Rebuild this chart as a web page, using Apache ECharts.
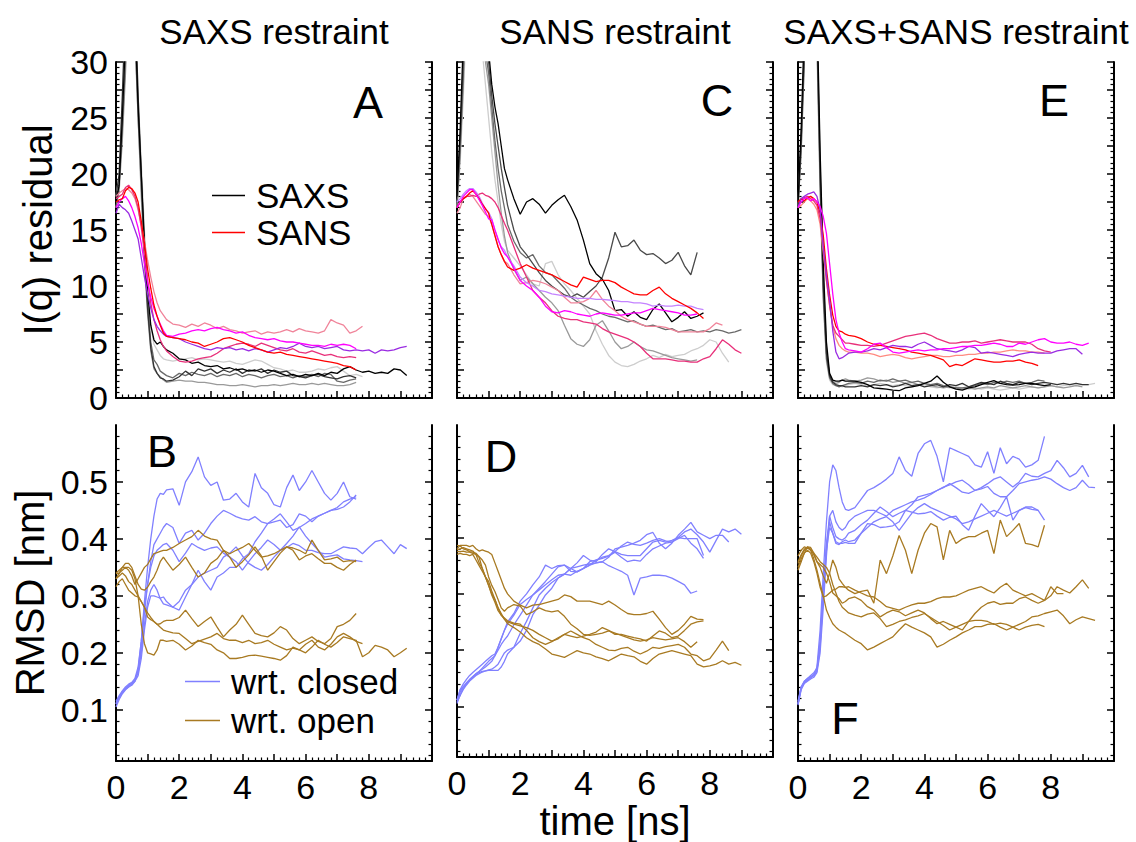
<!DOCTYPE html>
<html><head><meta charset="utf-8">
<script src="https://cdn.jsdelivr.net/npm/echarts@6/dist/echarts.min.js"></script>
<style>html,body{margin:0;padding:0;background:#fff}#c{width:1136px;height:842px}</style>
</head><body><div id="c"></div><script>
// time grid (ns)
const T = [0,0.1,0.2,0.3,0.4,0.5,0.6,0.7,0.8,0.9,1.0,1.1,1.2,1.3,1.4,1.5,1.6,
 1.8,2.0,2.2,2.4,2.6, 2.8,3.0,3.2,3.4,3.6, 3.8,4.0,4.2,4.4,4.6, 4.8,5.0,5.2,5.4,5.6,
 5.8,6.0,6.2,6.4,6.6, 6.8,7.0,7.2,7.4,7.6, 7.8,8.0,8.2,8.4,8.6, 8.8,9.0,9.2,9.4];

// ---------- Panel A: SAXS restraint, I(q) residual ----------
const A_saxs1 = [17.5,19,25,32,40,43,34,26,20,14,9.5,6.5,5.2,4.8,5.0,4.6,4.3,
 4.0,3.5,3.4,3.1,3.2, 2.9,2.8,2.9,2.6,2.7, 2.5,2.6,2.4,2.5,2.3, 2.5,2.4,2.2,2.0,2.1,
 1.9,2.1,2.0,2.2,2.0, 2.3,2.2,2.6,2.8,2.5, 2.3,2.4,2.2,2.3,2.2, 2.6,2.5,2.0];
const A_saxs2 = [18,20,27,35,44,46,36,27,20,13,8,4.5,2.8,2.2,1.8,1.7,1.5,
 1.6,1.9,2.4,2.0,2.6, 2.4,2.6,2.2,2.5,2.3, 2.6,2.2,2.5,2.4,2.6, 2.2,2.5,2.3,2.4,2.0,
 1.9,1.8,2.0,2.1,1.9, 1.8,1.7,1.9,2.0,1.8];
const A_saxs3 = [17,19,24,30,38,40,33,25,19,13,8.5,5,3.4,3.0,2.4,2.2,2.0,
 1.8,2.2,2.0,2.3,2.1, 2.0,2.2,1.9,2.1,2.0, 2.2,1.9,2.1,2.0,1.8, 2.0,2.1,1.9,2.0,1.8,
 2.0,1.9,2.1,1.9,2.2, 2.1,1.5,1.4,1.6,1.7];
const A_saxs4 = [17,18.5,23,29,36,39,32,25,18,12,7.5,4.2,2.6,2.2,1.9,1.6,1.4,
 1.5,1.6,1.5,1.5,1.4, 1.4,1.3,1.2,1.2,1.1, 1.1,1.2,1.1,1.0,1.1, 1.1,1.2,1.1,1.2,1.3,
 1.2,1.2,1.3,1.2,1.3, 1.2,1.1,1.1,1.2,1.4];
const A_saxs5 = [18,20,26,33,41,44,35,27,21,15,10,6.5,4.8,4.3,3.8,3.5,3.4,
 3.3,3.4,3.5,3.6,3.4, 3.5,3.4,3.3,3.2,3.3, 3.1,3.0,3.2,3.4,3.3, 3.0,2.7,2.6,2.4,2.5,
 2.3,2.3,2.4,2.6,2.5, 2.7,2.8,2.4,2.0,2.1, 1.9];
const A_sansRed = [17.5,17.7,17.8,18.5,18.8,18.7,18.3,17.5,15.8,13.8,11.5,9.8,8.3,7.3,6.5,5.8,5.5,
 5.4,5.3,5.2,5.0,4.9, 4.6,4.8,5.0,5.3,5.4, 5.2,5.0,4.7,4.5,4.3, 4.1,4.0,4.1,3.9,3.8,
 3.7,3.6,3.5,3.4,3.3, 3.2,3.1,2.9,2.8,2.5];
const A_sansRose = [17.8,18.0,18.2,18.8,19.0,18.6,18.0,17.0,15.2,13.0,10.6,8.5,7.0,6.0,5.2,4.6,4.2,
 3.7,3.3,3.2,3.3,3.5, 3.6,3.7,4.0,4.4,4.6, 4.8,4.9,4.8,4.6,4.9, 4.7,4.5,4.3,4.2,4.4,
 4.1,4.0,4.2,4.0,3.8, 3.9,3.7,3.6,3.7,3.6];
const A_sansPink = [18.0,18.3,18.5,18.7,18.6,18.3,17.8,16.8,15.5,14.0,12.3,10.8,9.5,8.5,7.8,7.4,7.0,
 6.6,6.5,6.3,6.6,6.4, 6.7,6.5,6.2,6.4,6.1, 6.0,5.8,5.9,6.0,5.7, 5.9,5.8,5.9,6.1,5.9,
 6.2,6.0,5.9,5.8,6.0, 7.0,6.7,6.5,5.8,6.0, 6.4];
const A_sansMagenta = [17.0,17.5,17.8,18.0,17.6,17.0,16.2,15.2,13.8,12.0,10.3,9.0,8.0,7.3,6.6,6.0,5.6,
 5.5,5.7,5.8,6.0,6.1, 6.0,6.2,6.3,6.1,6.0, 5.8,5.9,5.6,5.4,5.3, 5.2,5.3,5.1,5.0,5.0,
 4.9,4.8,4.7,4.7,4.6, 4.8,4.7,4.8,4.7,4.4];
const A_sansPurple = [16.5,17.3,17.0,16.8,16.5,15.8,15.0,14.2,12.5,10.8,9.3,8.0,7.0,6.4,6.0,5.7,5.5,
 5.4,5.3,5.0,4.8,4.6, 4.4,4.3,4.5,4.4,4.5, 4.3,4.4,4.2,4.4,4.3, 4.1,4.3,4.5,4.4,4.6,
 4.9,4.6,4.5,4.6,4.4, 4.5,4.6,4.3,4.2,4.3, 4.2,4.3,4.0,4.3,4.2, 4.3,4.5,4.6];

// ---------- Panel C: SANS restraint ----------
const C_saxs1 = [18,24,32,40,45,48,46,42,38,34,31,28,26,24.5,22.5,20.5,19.5,
 17.8,16.4,17.5,17.8,17.3, 16.5,17.2,17.7,18.1,17.1, 15.9,14.1,12.0,11.1,10.6, 9.6,7.8,7.9,7.3,7.7,
 7.2,7.0,7.9,8.4,7.6, 6.8,7.2,7.7,7.1,7.3, 7.6];
const C_saxs2 = [18,23,30,38,44,47,45,42,38,34,30,27,24.5,22.5,20.5,18.8,17.2,
 15,13.5,12.8,12,11.2, 10.5,10,9.6,9.2,9.0, 9.3,9.0,9.5,10.0,10.8, 12.5,14.8,13.5,13.6,14.1,
 13.2,12.8,12.9,12.5,12.0, 12.3,13.0,11.8,11.0,13.0];
const C_saxs3 = [17,22,29,37,43,45,42,38,34,31,29,26,23,20.5,18.5,17,15.5,
 14.0,13.0,12.5,12.8,11.8, 11.2,11.0,10.4,9.8,9.0, 8.6,8.3,8.0,7.8,7.5, 7.3,7.2,7.0,6.8,6.9,
 6.6,6.4,6.5,6.3,6.1, 6.2,5.9,6.0,6.1,5.9, 6.0,5.9,6.1,6.0,5.8, 5.9,6.1];
const C_saxs4 = [17,22,28,36,42,44,41,37,33,30,28,25,22,19,16.5,14.5,13,
 11.5,10.5,10.8,10.2,9.6, 9.0,8.5,7.8,6.5,5.3, 4.8,4.6,5.2,6.5,6.9, 6.0,5.0,4.4,4.6,5.0,
 4.6,4.3,4.2,4.0,3.8, 3.6,3.5,3.4,3.3,3.4];
const C_saxs5 = [17,21,27,34,40,42,39,35,31,28,25,22,19.5,17.5,15.5,14,13.2,
 12.5,11.8,11.0,10.2,10.0, 12.0,12.2,11.0,10.2,9.6, 8.9,8.2,7.5,6.0,4.8, 3.8,3.2,2.9,2.8,3.0,
 3.3,3.5,3.8,3.6,3.9, 3.7,3.8,3.9,4.2,4.4, 4.7,5.2,5.0,4.0,3.2];
const C_sansRed = [17,17.5,17.8,18.0,18.3,18.5,18.2,17.8,17.3,16.9,16.5,15.5,14.5,13.5,12.8,12.2,11.7,
 11.4,11.6,11.9,11.6,11.4, 11.2,11.0,10.7,10.4,10.1, 9.9,10.8,10.6,10.4,10.5, 10.5,10.3,9.9,9.6,9.3,
 9.2,9.2,9.6,9.9,9.3, 8.9,8.6,8.3,8.0,7.6, 7.1];
const C_sansLilac = [17.5,17.8,18.2,18.5,18.7,18.7,18.4,18.0,17.4,16.9,16.6,16.0,15.0,14.1,13.5,13.2,12.6,
 11.8,10.8,10.3,10.0,9.6, 9.5,9.3,9.2,9.1,9.0, 8.9,8.9,8.9,8.8,8.8, 8.75,8.7,8.6,8.6,8.5,
 8.5,8.4,8.2,8.3,8.2, 8.2,8.3,8.2,8.2,8.0, 7.9];
const C_sansMagenta = [17,17.5,18,18.3,18.6,18.6,18.2,17.7,17.2,16.6,16.0,15.9,15.0,14.2,13.4,12.9,12.6,
 11.6,10.5,10.0,9.6,9.0, 8.2,7.7,7.6,7.8,7.7, 7.5,7.4,7.3,7.5,7.6, 7.5,7.4,7.4,7.5,7.6,
 7.6,7.8,8.0,7.9,7.8, 7.7,7.6,7.4,7.4,7.5];
const C_sansPink = [16.5,17,17.8,18,18.2,18.0,17.6,17.2,16.8,16.4,16.2,15.5,14.5,13.5,12.8,12.2,12.0,
 11.0,10.2,10.3,10.5,10.4, 10.2,9.9,9.6,9.0,8.5, 8.5,8.6,8.9,9.6,8.8, 8.2,7.8,7.3,7.0,6.8,
 6.6,6.4,6.4,6.4,6.3, 6.1,5.9,5.9,5.9,5.9, 5.9,6.2,6.7,6.5];
const C_sansRose = [17,17.5,17.8,18,18,18.1,18,18.2,18.3,18.1,18.0,17.8,17.5,17.0,16.3,15.6,15.0,
 13.5,12.0,10.8,9.6,9.0, 8.5,7.8,7.3,7.1,7.0, 7.0,6.8,6.7,6.6,6.2, 5.9,5.7,5.5,5.3,5.0,
 4.6,4.0,3.5,3.5,3.5, 3.4,3.3,3.3,3.2,3.2, 3.5,3.7,4.4,5.2,4.8, 4.3,4.0];

// ---------- Panel E: SAXS+SANS restraint ----------
const E_saxs1 = [17.5,24,33,42,46,44,35,22,12,5,2.2,1.6,1.5,1.5,1.6,1.5,1.5,
 1.5,1.4,1.2,0.9,0.85, 0.8,0.7,0.65,0.9,1.0, 1.1,1.3,1.5,1.96,1.4, 1.0,0.8,0.7,0.9,1.0,
 1.2,1.4,1.55,1.3,1.2, 1.15,1.2,1.3,1.3,1.2, 1.1,1.2];
const E_saxs2 = [17,23,31,40,45,43,33,20,10,4,2,1.4,1.2,1.1,1.1,1.0,1.0,
 1.0,1.1,1.0,1.2,1.1, 1.2,1.0,1.1,1.3,1.1, 1.2,1.0,1.1,1.2,1.0, 1.2,1.1,1.3,1.0,1.2,
 1.4,1.3,1.2,1.5,1.3, 1.2,1.4,1.3,1.2,1.3, 1.4,1.3,1.2,1.3,1.2, 1.3,1.2,1.2];
const E_saxs3 = [17,22,30,39,44,42,32,19,9,3.5,1.8,1.3,1.1,1.0,1.1,1.2,1.3,
 1.4,1.3,1.5,1.4,1.6, 1.5,1.7,1.5,1.6,1.4, 1.5,1.3,1.2,1.3,1.1, 1.0,0.9,0.9,1.0,1.1,
 1.3,1.2,1.4,1.3,1.5, 1.4,1.5,1.3,1.4,1.6, 1.5];
const E_saxs4 = [17.5,23,32,41,45,43,34,21,11,4.5,2.1,1.5,1.3,1.4,1.6,1.7,1.6,
 1.5,1.6,1.8,1.7,1.5, 1.6,1.4,1.5,1.3,1.4, 1.2,1.3,1.1,1.0,0.9, 1.0,0.9,0.8,0.9,0.8,
 0.9,1.0,0.9,1.1,1.0, 0.9,1.0,1.1,1.0,0.9, 1.0,1.1,1.0,0.9,1.0, 1.1,1.0];
const E_saxs5 = [17,22,30,38,43,41,31,18,8.5,3.2,1.6,1.2,1.1,1.1,1.0,1.1,1.2,
 1.3,1.2,1.1,1.2,1.3, 1.2,1.1,1.2,1.1,1.0, 1.1,1.2,1.0,0.9,1.0, 0.9,1.0,0.9,0.8,0.9,
 0.8,0.9,0.8,0.7,0.8, 0.9,0.8,0.9,1.0,0.9, 1.0,1.1,1.0,1.1,1.2, 1.1,1.2,1.2,1.3];
const E_sansRed = [17.5,17.8,17.6,17.9,18.0,17.8,17.5,16.5,14.5,11.5,9.2,7.4,6.4,6.0,5.9,5.7,5.6,
 5.5,5.3,5.0,4.8,4.7, 4.6,4.5,4.4,4.3,4.1, 4.0,3.9,3.8,3.6,3.4, 2.8,3.0,2.9,3.2,3.5,
 3.4,3.3,3.2,3.2,3.3, 3.3,3.4,3.2,3.1,2.9];
const E_sansMagenta = [17.0,17.5,17.8,17.9,17.6,17.8,17.5,17.1,16.2,14.7,12.0,9.3,7.0,5.8,5.0,4.4,4.3,
 4.2,4.1,4.4,4.8,4.9, 4.5,4.1,4.0,4.1,4.2, 4.3,4.2,4.3,4.3,4.4, 4.4,4.5,4.6,4.6,4.7,
 4.7,4.8,4.9,4.8,4.6, 4.6,4.9,4.8,5.0,5.2, 5.3,5.0,4.9,4.9,5.0, 4.8,4.7,4.9];
const E_sansPurple = [17.0,17.8,18.0,18.2,18.3,18.4,18.0,16.8,13.5,11.0,8.75,6.0,4.1,3.5,3.6,3.8,4.0,
 4.1,4.1,4.2,4.4,4.3, 4.5,4.7,4.6,4.6,4.5, 4.8,5.0,4.7,4.4,4.3, 4.2,4.1,4.3,4.6,4.5,
 4.0,4.1,4.0,3.9,3.8, 3.7,3.9,4.0,4.1,4.0, 4.0,4.0,4.2,4.3,4.4, 4.4,3.9];
const E_sansRose = [17.5,17.7,17.9,18.0,17.8,17.6,17.2,16.0,13.5,10.5,8.3,6.5,5.8,5.5,5.2,4.9,4.9,
 4.8,4.7,4.7,4.6,4.7, 4.9,5.1,5.3,5.5,5.6, 5.7,5.8,5.6,5.3,5.1, 4.9,4.9,5.0,5.0,5.1,
 4.9,5.0,5.1,5.2,5.1, 5.0,5.0,5.0,4.8,4.4, 4.2,4.1];
const E_sansSalmon = [17.0,17.2,17.5,17.8,17.6,17.3,16.8,15.5,13.0,10.5,8.2,6.4,5.3,4.7,4.4,4.2,4.1,
 4.1,4.0,4.0,3.9,3.7, 3.8,3.9,3.8,3.6,3.5, 3.6,3.7,3.8,3.8,3.7, 3.7,3.8,3.8,3.9,3.9,
 4.0,4.0,4.1,4.1,4.2, 4.3,4.2,4.2,4.1,4.1, 4.0];

// ---------- Panel B: SAXS restraint, RMSD ----------
const B_closed1 = [0.105,0.118,0.128,0.135,0.14,0.143,0.15,0.17,0.22,0.29,0.35,0.40,0.44,0.47,0.48,0.478,0.486,
 0.488,0.459,0.50,0.518,0.544, 0.509,0.494,0.50,0.468,0.47, 0.48,0.465,0.456,0.515,0.49, 0.48,0.46,0.456,0.49,0.512,
 0.485,0.50,0.52,0.50,0.48, 0.468,0.48,0.50,0.474,0.47];
const B_closed2 = [0.11,0.12,0.13,0.137,0.142,0.146,0.153,0.168,0.21,0.27,0.32,0.36,0.39,0.40,0.41,0.42,0.427,
 0.42,0.392,0.41,0.415,0.398, 0.41,0.427,0.44,0.45,0.445, 0.439,0.435,0.433,0.439,0.43, 0.427,0.435,0.444,0.43,0.415,
 0.42,0.427,0.435,0.44,0.445, 0.45,0.455,0.465,0.47,0.474];
const B_closed3 = [0.115,0.125,0.133,0.14,0.145,0.148,0.155,0.175,0.22,0.28,0.32,0.35,0.37,0.38,0.385,0.39,0.392,
 0.38,0.36,0.375,0.392,0.385, 0.38,0.384,0.386,0.375,0.368, 0.36,0.345,0.36,0.374,0.385, 0.398,0.39,0.38,0.385,0.392,
 0.388,0.38,0.38,0.376,0.374, 0.374,0.38,0.386,0.384,0.383, 0.374,0.385,0.395,0.398,0.386, 0.374,0.39,0.383];
const B_closed4 = [0.11,0.122,0.132,0.138,0.143,0.147,0.152,0.165,0.2,0.25,0.29,0.31,0.32,0.31,0.295,0.286,0.284,
 0.28,0.29,0.31,0.32,0.333, 0.34,0.345,0.35,0.368,0.375, 0.386,0.37,0.357,0.35,0.345, 0.355,0.368,0.38,0.392,0.405,
 0.421,0.405,0.392,0.38,0.368, 0.37,0.372,0.365,0.363,0.362, 0.36];
const B_closed5 = [0.112,0.122,0.13,0.136,0.14,0.145,0.15,0.16,0.19,0.24,0.28,0.30,0.30,0.298,0.296,0.298,0.29,
 0.28,0.275,0.298,0.32,0.345, 0.325,0.31,0.333,0.34,0.35, 0.35,0.365,0.374,0.395,0.41, 0.427,0.43,0.433,0.42,0.425,
 0.444,0.44,0.43,0.44,0.445, 0.45,0.452,0.456,0.465,0.477];
const B_open1 = [0.339,0.34,0.345,0.35,0.345,0.335,0.32,0.33,0.34,0.35,0.355,0.365,0.374,0.376,0.378,0.38,0.38,
 0.385,0.392,0.398,0.404,0.415, 0.405,0.40,0.398,0.38,0.374, 0.38,0.385,0.392,0.38,0.368, 0.37,0.374,0.38,0.386,0.384,
 0.38,0.374,0.398,0.38,0.363, 0.365,0.368,0.36,0.362,0.36];
const B_open2 = [0.33,0.34,0.35,0.357,0.357,0.35,0.335,0.32,0.312,0.31,0.315,0.325,0.333,0.345,0.36,0.368,0.36,
 0.345,0.355,0.368,0.35,0.333, 0.34,0.357,0.365,0.38,0.368, 0.35,0.36,0.372,0.386,0.37, 0.345,0.36,0.375,0.386,0.38,
 0.363,0.37,0.374,0.365,0.357, 0.357,0.35,0.345,0.355,0.363];
const B_open3 = [0.34,0.345,0.35,0.35,0.35,0.345,0.33,0.3,0.25,0.216,0.2,0.198,0.196,0.205,0.222,0.222,0.22,
 0.222,0.215,0.205,0.212,0.222, 0.218,0.215,0.205,0.2,0.19, 0.19,0.192,0.195,0.196,0.194, 0.192,0.19,0.187,0.195,0.21,
 0.205,0.2,0.21,0.222,0.215, 0.21,0.218,0.228,0.225,0.222, 0.193,0.2,0.213,0.21,0.205, 0.193,0.2,0.208];
const B_open4 = [0.316,0.325,0.33,0.32,0.31,0.305,0.3,0.298,0.29,0.28,0.263,0.258,0.255,0.25,0.251,0.255,0.257,
 0.257,0.262,0.275,0.26,0.246, 0.255,0.263,0.245,0.228,0.24, 0.25,0.266,0.25,0.234,0.23, 0.228,0.235,0.246,0.24,0.225,
 0.216,0.222,0.228,0.22,0.216, 0.225,0.246,0.25,0.257,0.269];
const B_open5 = [0.33,0.335,0.34,0.335,0.325,0.32,0.31,0.3,0.29,0.28,0.27,0.262,0.255,0.25,0.245,0.24,0.238,
 0.235,0.234,0.225,0.216,0.22, 0.224,0.228,0.234,0.225,0.222, 0.222,0.218,0.222,0.216,0.218, 0.222,0.215,0.21,0.205,0.208,
 0.205,0.215,0.222,0.21,0.205, 0.215,0.228,0.234,0.228,0.22, 0.216];

// ---------- Panel D: SANS restraint, RMSD ----------
const D_closed1 = [0.111,0.129,0.135,0.14,0.146,0.152,0.158,0.162,0.168,0.174,0.18,0.185,0.19,0.2,0.21,0.218,0.225,
 0.245,0.262,0.28,0.298,0.31, 0.322,0.335,0.348,0.351,0.34, 0.339,0.345,0.351,0.36,0.365, 0.368,0.375,0.385,0.392,0.388,
 0.386,0.39,0.395,0.398,0.394, 0.392,0.4,0.41,0.415,0.405, 0.392,0.374,0.395,0.415,0.41, 0.415,0.406];
const D_closed2 = [0.111,0.125,0.135,0.142,0.148,0.153,0.158,0.162,0.166,0.17,0.175,0.18,0.19,0.205,0.22,0.235,0.246,
 0.262,0.281,0.29,0.298,0.307, 0.316,0.325,0.333,0.335,0.333, 0.34,0.345,0.351,0.355,0.357, 0.365,0.38,0.383,0.386,0.39,
 0.395,0.405,0.409,0.39,0.38, 0.39,0.404,0.415,0.427,0.41, 0.404,0.398,0.404,0.404,0.392];
const D_closed3 = [0.111,0.13,0.14,0.148,0.155,0.16,0.165,0.17,0.175,0.18,0.185,0.19,0.193,0.205,0.22,0.235,0.25,
 0.265,0.287,0.3,0.316,0.33, 0.351,0.345,0.35,0.351,0.345, 0.339,0.345,0.357,0.36,0.363, 0.367,0.374,0.365,0.357,0.36,
 0.358,0.37,0.38,0.385,0.39, 0.392,0.398,0.404,0.39,0.38, 0.363];
const D_closed4 = [0.105,0.12,0.13,0.138,0.145,0.15,0.155,0.158,0.161,0.163,0.164,0.164,0.164,0.164,0.17,0.18,0.193,
 0.205,0.216,0.235,0.263,0.28, 0.298,0.31,0.328,0.335,0.345, 0.348,0.351,0.353,0.355,0.357, 0.35,0.345,0.34,0.333,0.298,
 0.328,0.33,0.333,0.333,0.332, 0.328,0.322,0.316,0.301,0.305];
const D_closed5 = [0.108,0.12,0.132,0.14,0.147,0.152,0.156,0.16,0.162,0.163,0.165,0.166,0.17,0.175,0.185,0.195,0.2,
 0.205,0.23,0.251,0.275,0.298, 0.31,0.32,0.328,0.335,0.345, 0.355,0.368,0.36,0.357,0.37, 0.38,0.375,0.37,0.368,0.368,
 0.368,0.38,0.392,0.395,0.392, 0.395,0.4,0.398,0.398,0.398, 0.368];
const D_open1 = [0.38,0.386,0.386,0.386,0.384,0.386,0.38,0.376,0.378,0.376,0.374,0.37,0.355,0.34,0.325,0.31,0.3,
 0.287,0.28,0.275,0.28,0.281, 0.284,0.287,0.29,0.298,0.295, 0.287,0.287,0.287,0.284,0.281, 0.287,0.28,0.272,0.265,0.263,
 0.263,0.265,0.269,0.255,0.24, 0.228,0.235,0.246,0.26,0.255, 0.254];
const D_open2 = [0.375,0.375,0.376,0.374,0.374,0.372,0.37,0.365,0.345,0.33,0.315,0.3,0.29,0.275,0.262,0.255,0.25,
 0.246,0.243,0.24,0.235,0.228, 0.222,0.216,0.22,0.228,0.225, 0.222,0.225,0.228,0.232,0.24, 0.235,0.228,0.228,0.225,0.222,
 0.22,0.216,0.225,0.234,0.23, 0.222,0.225,0.235,0.246,0.25, 0.252];
const D_open3 = [0.37,0.372,0.37,0.37,0.368,0.37,0.36,0.35,0.34,0.33,0.322,0.305,0.29,0.275,0.265,0.255,0.247,
 0.24,0.232,0.222,0.215,0.21, 0.202,0.193,0.19,0.187,0.193, 0.199,0.195,0.193,0.188,0.185, 0.181,0.187,0.193,0.19,0.188,
 0.18,0.175,0.185,0.193,0.196, 0.199,0.196,0.193,0.19,0.175, 0.17,0.172,0.175,0.181,0.175, 0.178,0.173];
const D_open4 = [0.378,0.38,0.382,0.38,0.378,0.376,0.37,0.355,0.345,0.33,0.315,0.298,0.285,0.27,0.262,0.257,0.252,
 0.248,0.246,0.235,0.222,0.215, 0.21,0.215,0.222,0.228,0.234, 0.228,0.222,0.218,0.21,0.205, 0.2,0.199,0.203,0.205,0.198,
 0.193,0.198,0.205,0.203,0.206, 0.208,0.21,0.205,0.193,0.19, 0.181,0.185,0.2,0.216,0.199];
const D_open5 = [0.386,0.385,0.38,0.378,0.375,0.374,0.372,0.366,0.36,0.351,0.33,0.315,0.304,0.29,0.275,0.269,0.275,
 0.281,0.278,0.263,0.268,0.275, 0.27,0.268,0.27,0.26,0.246, 0.238,0.228,0.226,0.228,0.23, 0.234,0.23,0.226,0.222,0.218,
 0.216,0.218,0.222,0.22,0.218, 0.22,0.222,0.215,0.205,0.215];

// ---------- Panel F: SAXS+SANS restraint, RMSD ----------
const F_closed1 = [0.11,0.138,0.148,0.152,0.157,0.162,0.175,0.24,0.34,0.43,0.5,0.53,0.52,0.49,0.465,0.452,0.45,
 0.455,0.47,0.485,0.49,0.497, 0.505,0.515,0.544,0.52,0.51, 0.55,0.567,0.573,0.545,0.5, 0.56,0.555,0.55,0.545,0.53,
 0.526,0.553,0.515,0.56,0.532, 0.545,0.54,0.526,0.53,0.538, 0.58];
const F_closed2 = [0.115,0.14,0.15,0.155,0.158,0.16,0.168,0.21,0.3,0.39,0.44,0.42,0.404,0.4,0.398,0.402,0.41,
 0.415,0.425,0.433,0.445,0.456, 0.448,0.439,0.445,0.45,0.46, 0.474,0.477,0.48,0.485,0.491, 0.495,0.5,0.503,0.495,0.485,
 0.49,0.497,0.505,0.509,0.5, 0.491,0.5,0.515,0.51,0.509, 0.515,0.52,0.538,0.525,0.509, 0.515,0.529,0.509];
const F_closed3 = [0.108,0.135,0.146,0.15,0.154,0.157,0.165,0.2,0.28,0.37,0.44,0.45,0.43,0.42,0.415,0.42,0.43,
 0.44,0.445,0.45,0.45,0.445, 0.44,0.45,0.455,0.46,0.465, 0.468,0.472,0.478,0.485,0.49, 0.497,0.49,0.482,0.48,0.485,
 0.488,0.492,0.48,0.474,0.474, 0.485,0.497,0.5,0.503,0.505, 0.509,0.505,0.497,0.49,0.485, 0.49,0.503,0.491,0.49];
const F_closed4 = [0.112,0.14,0.15,0.155,0.16,0.165,0.172,0.22,0.31,0.39,0.43,0.41,0.395,0.392,0.392,0.394,0.392,
 0.392,0.41,0.427,0.425,0.42, 0.421,0.423,0.43,0.45,0.447, 0.444,0.445,0.448,0.44,0.433, 0.438,0.44,0.425,0.415,0.44,
 0.462,0.45,0.439,0.455,0.474, 0.433,0.45,0.456,0.456,0.45, 0.433];
const F_closed5 = [0.11,0.137,0.147,0.152,0.156,0.16,0.17,0.215,0.3,0.38,0.42,0.41,0.392,0.39,0.395,0.398,0.395,
 0.398,0.41,0.42,0.43,0.435, 0.439,0.43,0.415,0.43,0.445, 0.455,0.462,0.455,0.45,0.445, 0.44,0.435,0.427,0.43,0.435,
 0.44,0.445,0.45,0.445,0.44, 0.445,0.45,0.455,0.452,0.45];
const F_open1 = [0.357,0.37,0.38,0.386,0.385,0.375,0.36,0.35,0.335,0.322,0.34,0.363,0.35,0.33,0.322,0.315,0.31,
 0.304,0.308,0.31,0.287,0.363, 0.339,0.37,0.406,0.38,0.339, 0.38,0.41,0.427,0.421,0.363, 0.415,0.392,0.4,0.404,0.404,
 0.41,0.415,0.374,0.433,0.404, 0.415,0.427,0.392,0.39,0.386, 0.424];
const F_open2 = [0.35,0.365,0.375,0.38,0.375,0.36,0.34,0.315,0.298,0.3,0.305,0.31,0.312,0.316,0.316,0.315,0.316,
 0.31,0.305,0.3,0.298,0.29, 0.281,0.278,0.275,0.28,0.284, 0.287,0.287,0.29,0.295,0.298, 0.298,0.3,0.305,0.31,0.313,
 0.316,0.31,0.305,0.315,0.322, 0.31,0.305,0.3,0.304,0.298, 0.292,0.3,0.316,0.31,0.305, 0.316,0.328,0.313];
const F_open3 = [0.345,0.36,0.375,0.386,0.38,0.365,0.345,0.322,0.3,0.275,0.262,0.251,0.245,0.24,0.237,0.234,0.23,
 0.222,0.216,0.205,0.21,0.216, 0.222,0.228,0.24,0.251,0.245, 0.24,0.235,0.228,0.21,0.215, 0.222,0.228,0.235,0.24,0.246,
 0.246,0.25,0.251,0.245,0.24, 0.245,0.25,0.255,0.263,0.265, 0.269,0.272,0.275,0.265,0.251, 0.258,0.263,0.26,0.257];
const F_open4 = [0.37,0.38,0.386,0.384,0.38,0.375,0.368,0.36,0.355,0.35,0.34,0.32,0.305,0.29,0.28,0.275,0.27,
 0.266,0.263,0.268,0.27,0.26, 0.246,0.25,0.255,0.258,0.262, 0.265,0.269,0.262,0.255,0.248, 0.24,0.245,0.25,0.255,0.257,
 0.257,0.255,0.25,0.252,0.25, 0.245,0.24,0.245,0.248,0.25, 0.246];
const F_open5 = [0.36,0.372,0.382,0.385,0.382,0.372,0.36,0.355,0.35,0.34,0.325,0.305,0.3,0.295,0.287,0.29,0.295,
 0.298,0.292,0.281,0.275,0.263, 0.27,0.275,0.272,0.265,0.27, 0.275,0.27,0.26,0.251,0.255, 0.25,0.245,0.24,0.255,0.269,
 0.28,0.287,0.29,0.285,0.287, 0.287,0.295,0.298,0.292,0.287, 0.292,0.316,0.304,0.304];

// tick label values
const xLabels = [0,2,4,6,8];
const topYLabels = [0,5,10,15,20,25,30];
const botYLabels = [0.1,0.2,0.3,0.4,0.5];
const botYMinor = [0.02,0.04,0.06,0.08,0.12,0.14,0.16,0.18,0.22,0.24,0.26,0.28,0.32,0.34,0.36,0.38,0.42,0.44,0.46,0.48,0.52,0.54,0.56,0.58];

// colours
const SAXS_COLS = ['#000000','#333333','#6a6a6a','#9a9a9a','#cdcdcd'];
const RED='#ff0000', MAG='#ff00ff', PUR='#9a2be2', PINK='#f0849a', ROSE='#e8307a', LILAC='#c483ff', SALMON='#ff8a80';
const BLUE='#8080ff', BROWN='#a87a22';

const FONT = '"Liberation Sans", Arial, Helvetica, sans-serif';
const LEFTS=[116,457,798];
const grids=[], xAxes=[], yAxes=[], series=[];
const mainY=[];
for(let r=0;r<2;r++){
  for(let c=0;c<3;c++){
    const gi = r*3+c;
    grids.push({left:LEFTS[c], top: r===0?62:425, width:316, height:336, containLabel:false});
    xAxes.push({type:'value', gridIndex:gi, min:0, max:10, interval:1, position:'bottom',
      axisLine:{show:true, onZero:false, lineStyle:{color:'#000', width:2}},
      axisTick:{show:true, inside:true, length:7, lineStyle:{color:'#000', width:1.5}},
      minorTick:{show:true, splitNumber:5, length:3.5, lineStyle:{color:'#000', width:1.2}},
      splitLine:{show:false},
      axisLabel:{show:r===1, margin:9, fontSize:34, color:'#000', fontFamily:FONT,
        showMaxLabel:false,
        formatter:v=> xLabels.indexOf(v)>=0 ? String(v) : ''},
      name: (r===1&&c===1)?'time [ns]':'', nameLocation:'middle', nameGap:44,
      nameTextStyle:{fontSize:40, color:'#000', fontFamily:FONT}
    });
    if(r===0){
      const base = {type:'value', gridIndex:gi, min:0, max:30, interval:2.5,
        axisLine:{show:true, onZero:false, lineStyle:{color:'#000', width:2}},
        axisTick:{show:true, inside:true, length:7, lineStyle:{color:'#000', width:1.5}},
        minorTick:{show:true, splitNumber:5, length:3.5, lineStyle:{color:'#000', width:1.2}},
        splitLine:{show:false}};
      mainY[gi]=yAxes.length;
      yAxes.push(Object.assign({}, base, {position:'left',
        axisLabel:{show:c===0, margin:8, fontSize:34, color:'#000', fontFamily:FONT,
          formatter:v=> topYLabels.indexOf(v)>=0 ? String(v) : ''},
        name: c===0?'I(q) residual':'', nameLocation:'middle', nameRotate:90, nameGap:58,
        nameTextStyle:{fontSize:40, color:'#000', fontFamily:FONT}}));
      yAxes.push(Object.assign({}, base, {position:'right', axisLabel:{show:false}}));
    } else {
      const base = {type:'value', gridIndex:gi, min:0.01, max:0.6, splitLine:{show:false}};
      mainY[gi]=yAxes.length;
      yAxes.push(Object.assign({}, base, {position:'left',
        axisLine:{show:true, onZero:false, lineStyle:{color:'#000', width:2}},
        axisTick:{show:true, inside:true, length:7, customValues:botYLabels, lineStyle:{color:'#000', width:1.5}},
        axisLabel:{show:c===0, margin:8, fontSize:34, color:'#000', fontFamily:FONT, customValues:botYLabels},
        name: c===0?'RMSD [nm]':'', nameLocation:'middle', nameRotate:90, nameGap:66,
        nameTextStyle:{fontSize:40, color:'#000', fontFamily:FONT}}));
      yAxes.push(Object.assign({}, base, {position:'right',
        axisLine:{show:true, onZero:false, lineStyle:{color:'#000', width:2}},
        axisTick:{show:true, inside:true, length:7, customValues:botYLabels, lineStyle:{color:'#000', width:1.5}},
        axisLabel:{show:false}}));
      yAxes.push(Object.assign({}, base, {position:'left',
        axisLine:{show:false},
        axisTick:{show:true, inside:true, length:3.5, customValues:botYMinor, lineStyle:{color:'#000', width:1.2}},
        axisLabel:{show:false}}));
      yAxes.push(Object.assign({}, base, {position:'right',
        axisLine:{show:false},
        axisTick:{show:true, inside:true, length:3.5, customValues:botYMinor, lineStyle:{color:'#000', width:1.2}},
        axisLabel:{show:false}}));
    }
  }
}
function line(vals, color, gi, name){
  const s = {type:'line', xAxisIndex:gi, yAxisIndex:mainY[gi], symbol:'none', showSymbol:false,
    data: vals.map((v,i)=>[T[i], v]), clip:true, silent:true, animation:false,
    lineStyle:{color:color, width:1.3}, itemStyle:{color:color}};
  if(name) s.name=name;
  series.push(s);
}
// A
[A_saxs5,A_saxs4,A_saxs3,A_saxs2].forEach((a,i)=>line(a, SAXS_COLS[4-i], 0));
line(A_saxs1, SAXS_COLS[0], 0, 'SAXS');
line(A_sansPink, PINK, 0); line(A_sansRose, ROSE, 0); line(A_sansPurple, PUR, 0);
line(A_sansMagenta, MAG, 0); line(A_sansRed, RED, 0, 'SANS');
// C
line(C_saxs5, SAXS_COLS[4], 1); line(C_saxs4, SAXS_COLS[3], 1); line(C_saxs3, SAXS_COLS[2], 1);
line(C_saxs2, '#4a4a4a', 1); line(C_saxs1, SAXS_COLS[0], 1);
line(C_sansPink, PINK, 1); line(C_sansRose, ROSE, 1); line(C_sansLilac, LILAC, 1);
line(C_sansRed, RED, 1); line(C_sansMagenta, MAG, 1);
// E
line(E_saxs5, SAXS_COLS[4], 2); line(E_saxs4, SAXS_COLS[3], 2); line(E_saxs3, SAXS_COLS[2], 2);
line(E_saxs2, SAXS_COLS[1], 2); line(E_saxs1, SAXS_COLS[0], 2);
line(E_sansSalmon, SALMON, 2); line(E_sansRose, ROSE, 2); line(E_sansRed, RED, 2);
line(E_sansPurple, PUR, 2); line(E_sansMagenta, MAG, 2);
// B
line(B_closed1, BLUE, 3, 'wrt. closed'); line(B_closed2, BLUE, 3); line(B_closed3, BLUE, 3);
line(B_closed4, BLUE, 3); line(B_closed5, BLUE, 3);
line(B_open1, BROWN, 3, 'wrt. open'); line(B_open2, BROWN, 3); line(B_open3, BROWN, 3);
line(B_open4, BROWN, 3); line(B_open5, BROWN, 3);
// D
[D_closed1,D_closed2,D_closed3,D_closed4,D_closed5].forEach(a=>line(a, BLUE, 4));
[D_open1,D_open2,D_open3,D_open4,D_open5].forEach(a=>line(a, BROWN, 4));
// F
[F_closed1,F_closed2,F_closed3,F_closed4,F_closed5].forEach(a=>line(a, BLUE, 5));
[F_open1,F_open2,F_open3,F_open4,F_open5].forEach(a=>line(a, BROWN, 5));

const tStyle = (fs)=>({fontSize:fs, fontWeight:'normal', color:'#000', fontFamily:FONT});
const titles = [
  {text:'SAXS restraint', left:274, top:14, textAlign:'center', padding:0, textStyle:tStyle(35)},
  {text:'SANS restraint', left:615, top:14, textAlign:'center', padding:0, textStyle:tStyle(35)},
  {text:'SAXS+SANS restraint', left:956, top:14, textAlign:'center', padding:0, textStyle:tStyle(35)},
  {text:'A', left:368, top:80, textAlign:'center', padding:0, textStyle:tStyle(45)},
  {text:'C', left:717, top:78, textAlign:'center', padding:0, textStyle:tStyle(45)},
  {text:'E', left:1054, top:78, textAlign:'center', padding:0, textStyle:tStyle(45)},
  {text:'B', left:162, top:429, textAlign:'center', padding:0, textStyle:tStyle(45)},
  {text:'D', left:501, top:434, textAlign:'center', padding:0, textStyle:tStyle(45)},
  {text:'F', left:845, top:696, textAlign:'center', padding:0, textStyle:tStyle(45)}
];
const legendText = {fontSize:35, lineHeight:33, color:'#000', fontFamily:FONT, padding:[0,0,0,6]};
const chart = echarts.init(document.getElementById('c'), null, {renderer:'svg', width:1136, height:842});
chart.setOption({
  animation:false,
  backgroundColor:'#ffffff',
  title: titles,
  legend:[
    {data:['SAXS','SANS'], orient:'vertical', left:212, top:178, icon:'rect', itemWidth:33, itemHeight:1.5, itemGap:2,
     padding:0, selectedMode:false, textStyle:legendText},
    {data:['wrt. closed','wrt. open'], orient:'vertical', left:185, top:664, icon:'rect', itemWidth:35, itemHeight:1.5, itemGap:4,
     padding:0, selectedMode:false, textStyle:legendText}
  ],
  grid: grids, xAxis: xAxes, yAxis: yAxes, series: series
});
</script></body></html>
